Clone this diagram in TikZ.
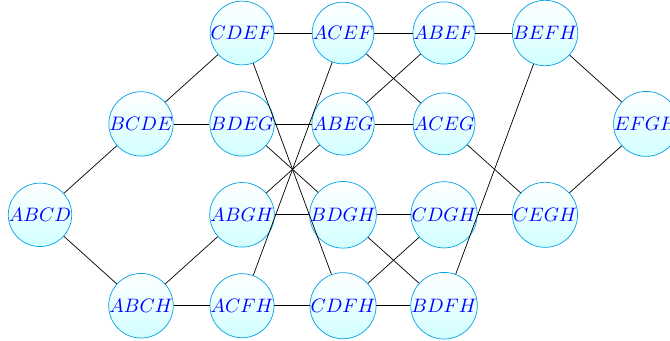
\documentclass[tikz,border=0pt]{standalone}
\usetikzlibrary{calc}

\begin{document}
\begin{tikzpicture}[x=2cm,y=1.8cm]
    \tikzset{%
      state/.style={%
        circle, draw=cyan!90!blue, top color=white, bottom color=cyan!18,
        inner sep=0pt, minimum size=1.19cm, text=blue,
        font=\fontsize{11}{13}\selectfont}}

    \useasboundingbox (-0.396,-0.378) rectangle (6.237,3.363);

    % nodes, by row
    \node[state] (cdef) at (2,3) {$CDEF$};
    \node[state] (acef) at (3,3) {$ACEF$};
    \node[state] (abef) at (4,3) {$ABEF$};
    \node[state] (befh) at (5,3) {$BEFH$};

    \node[state] (bcde) at (1,2) {$BCDE$};
    \node[state] (bdeg) at (2,2) {$BDEG$};
    \node[state] (abeg) at (3,2) {$ABEG$};
    \node[state] (aceg) at (4,2) {$ACEG$};
    \node[state] (efgh) at (6,2) {$EFGH$};

    \node[state] (abcd) at (0,1) {$ABCD$};
    \node[state] (abgh) at (2,1) {$ABGH$};
    \node[state] (bdgh) at (3,1) {$BDGH$};
    \node[state] (cdgh) at (4,1) {$CDGH$};
    \node[state] (cegh) at (5,1) {$CEGH$};

    \node[state] (abch) at (1,0) {$ABCH$};
    \node[state] (acfh) at (2,0) {$ACFH$};
    \node[state] (cdfh) at (3,0) {$CDFH$};
    \node[state] (bdfh) at (4,0) {$BDFH$};

    \foreach \a/\b in {abcd/bcde, abcd/abch, bcde/cdef, bcde/bdeg, abch/abgh, abch/acfh,
                       cdef/acef, cdef/cdfh, bdeg/abeg, bdeg/bdgh, abgh/abeg, abgh/bdgh,
                       acfh/acef, acfh/cdfh, acef/abef, acef/aceg, abeg/abef, abeg/aceg,
                       bdgh/cdgh, bdgh/bdfh, cdfh/cdgh, cdfh/bdfh, abef/befh, aceg/cegh,
                       cdgh/cegh, bdfh/befh, befh/efgh, cegh/efgh}
      \draw (\a) -- (\b);
  \end{tikzpicture}
\end{document}
